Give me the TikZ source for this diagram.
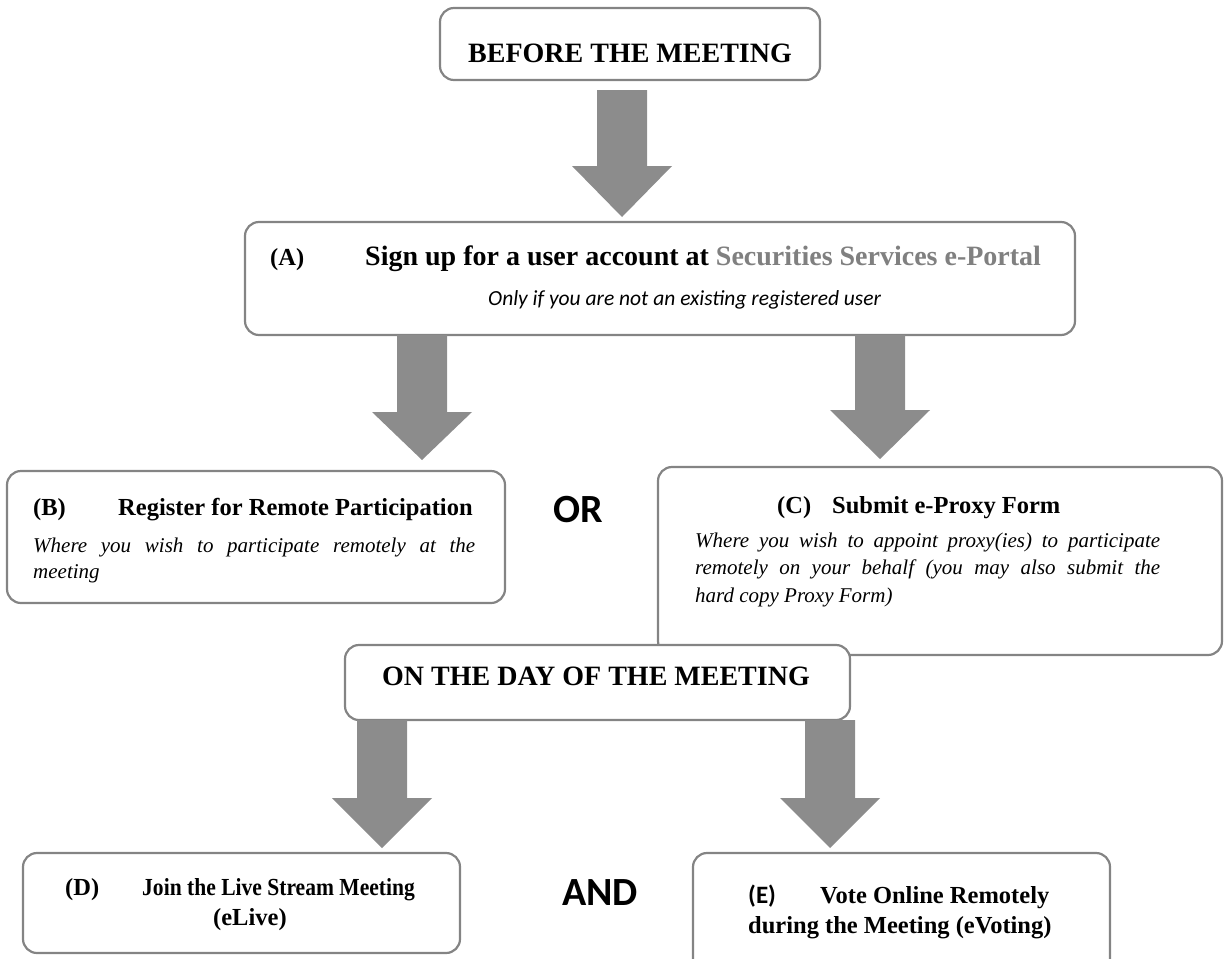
\documentclass[tikz,border=0pt]{standalone}
\usepackage{fontspec}
\setmainfont{Liberation Serif}
\newfontfamily\carlito{Carlito}
\usetikzlibrary{calc}
\definecolor{boxline}{RGB}{132,132,132}
\definecolor{arrowgray}{RGB}{140,140,140}
\definecolor{portalgray}{RGB}{128,128,128}
\newcommand\fatarrow[6]{%
  \fill[arrowfill] let \p1=(#1.south), \p2=(#2.north) in
    (#3pt-25pt,\y1-#4pt) -- (#3pt+25pt,\y1-#4pt) -- (#3pt+25pt,\y2+#6pt+#5pt)
    -- (#3pt+50pt,\y2+#6pt+#5pt) -- (#3pt,\y2+#6pt) -- (#3pt-50pt,\y2+#6pt+#5pt)
    -- (#3pt-25pt,\y2+#6pt+#5pt) -- cycle;}
\begin{document}
\begin{tikzpicture}[x=1pt,y=-1pt,
  rbox/.style={draw=boxline, line width=2.2pt, rounded corners=14pt, fill=white, inner sep=0pt, outer sep=0pt},
  arrowfill/.style={fill=arrowgray},
  head/.style={anchor=base west, inner sep=0pt, font=\fontsize{28}{34}\selectfont\bfseries},
  subhead/.style={anchor=base west, inner sep=0pt, font=\fontsize{24.5}{30}\selectfont\bfseries},
  note/.style={anchor=north west, inner sep=0pt, align=justify},
  big/.style={inner sep=0pt, font=\fontsize{40}{46}\selectfont\carlito\bfseries}
]
\useasboundingbox (0,0) rectangle (1225,958);
\clip (0,0) rectangle (1225,958);
% boxes
\node[rbox, minimum width=380pt, minimum height=72pt] (bef) at (630,44) {};
\node[rbox, minimum width=830pt, minimum height=113pt] (A) at (660,278.5) {};
\node[rbox, minimum width=498pt, minimum height=132pt] (B) at (256,537) {};
\node[rbox, minimum width=564pt, minimum height=188pt] (C) at (940,561) {};
\node[rbox, minimum width=505pt, minimum height=75pt] (day) at (597.5,682.5) {};
\node[rbox, minimum width=437pt, minimum height=100pt] (D) at (241.5,903) {};
\node[rbox, minimum width=417pt, minimum height=122pt] (E) at (901.5,914) {};
% arrows
\fatarrow{bef}{A}{622}{10}{51}{5}
\fatarrow{A}{B}{422}{0}{48}{11}
\fatarrow{A}{C}{880}{0}{49}{8}
\fatarrow{day}{D}{382}{0}{50}{5}
\fatarrow{day}{E}{830}{0}{50}{5}
% texts
\node[head] (tbef) at (468,63) {BEFORE THE MEETING};
\node[subhead] (tAl) at (270,265) {(A)};
\node[head] (tA) at (365,265) {Sign up for a user account at \textcolor{portalgray}{Securities Services e-Portal}};
\node[anchor=base west, inner sep=0pt, font=\fontsize{21.5}{26}\selectfont\carlito\itshape] (tA2) at (488,305) {Only if you are not an existing registered user};
\node[subhead] (tBl) at (33,515) {(B)};
\node[subhead] (tB) at (118,515) {Register for Remote Participation};
\node[note, text width=442pt, font=\fontsize{21}{26}\selectfont\itshape] (tB2) at (33,537.7)
  {Where you wish to participate remotely at the\linebreak meeting};
\node[subhead] (tCl) at (777,513) {(C)};
\node[subhead] (tC) at (832,513) {Submit e-Proxy Form};
\node[note, text width=465pt, font=\fontsize{21}{27.5}\selectfont\itshape] (tC2) at (695,532.5)
  {Where you wish to appoint proxy(ies) to participate\linebreak remotely on your behalf (you may also submit the\linebreak hard copy Proxy Form)};
\node[big] (tor) at (578,510) {OR};
\node[head] (tday) at (382,685) {ON THE DAY OF THE MEETING};
\node[subhead] (tDl) at (65,895) {(D)};
\node[subhead] (tD) at (142,895) {\scalebox{0.88}[1]{Join the Live Stream Meeting}};
\node[subhead] (tD2) at (213,925) {(eLive)};
\node[big] (tand) at (600,893) {AND};
\node[anchor=base west, inner sep=0pt, font=\fontsize{25}{30}\selectfont\carlito\bfseries] (tEl) at (748,903) {(E)};
\node[subhead] (tE) at (820,903) {Vote Online Remotely};
\node[subhead] (tE2) at (748,933) {during the Meeting (eVoting)};
\end{tikzpicture}
\end{document}
